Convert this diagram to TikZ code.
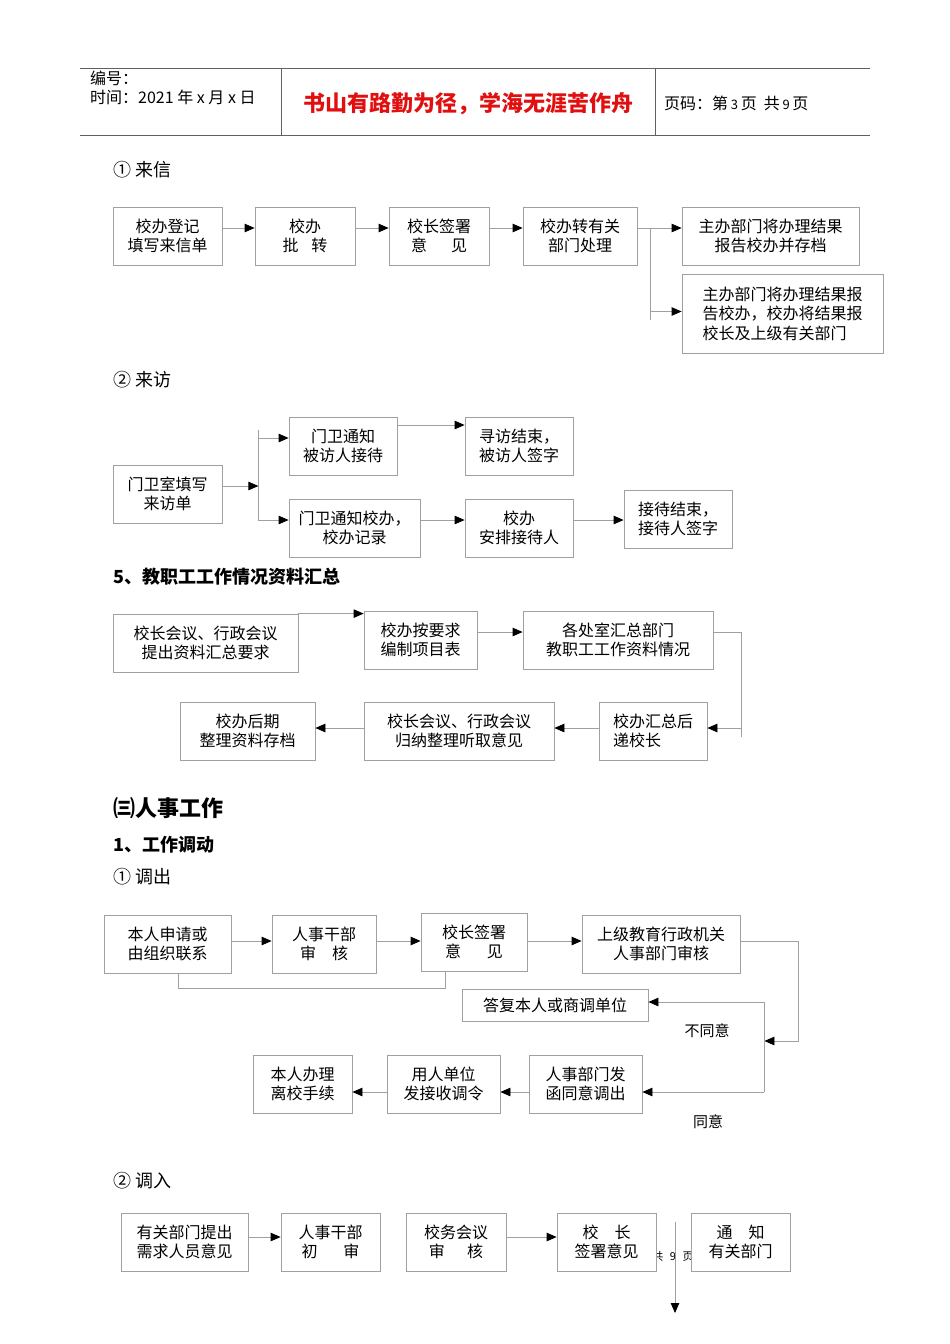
\documentclass[tikz,border=0pt]{standalone}
\usepackage{fontspec}
\setmainfont{Noto Sans CJK SC}
\usepackage{tikz}
\usetikzlibrary{arrows.meta}
\definecolor{linegray}{HTML}{A0A0A0}
\definecolor{rulegray}{HTML}{606060}
\definecolor{mottored}{HTML}{E01010}

\begin{document}
\begin{tikzpicture}[x=1pt, y=-1pt,
	every node/.style={font=\fontsize{16}{19.5}\selectfont},
	box/.style={draw=linegray, line width=0.8pt, fill=white, minimum height=58pt, align=center, inner sep=0pt},
	head/.style={anchor=west, inner sep=0pt, font=\fontsize{18}{20}\selectfont},
	bhead/.style={anchor=west, inner sep=0pt, font=\fontsize{18}{20}\selectfont\bfseries},
	conn/.style={draw=linegray, line width=0.8pt},
	>={Triangle[length=10pt, width=8.5pt, color=black]}]
	\useasboundingbox (0,0) rectangle (950,1344);

	% page header
	\draw[rulegray, line width=1pt] (80,68) -- (870,68);
	\draw[rulegray, line width=1pt] (80,135) -- (870,135);
	\draw[rulegray, line width=1pt] (281,68) -- (281,135);
	\draw[rulegray, line width=1pt] (655,68) -- (655,135);
	\node[anchor=north west, inner sep=0pt, align=left, font=\fontsize{16}{19}\selectfont] (serial) at (90,71) {编号：\\时间：2021 年 x 月 x 日};
	\node[text=mottored, font=\fontsize{22}{24}\selectfont\bfseries] (motto) at (468,104) {书山有路勤为径，学海无涯苦作舟};
	\node[anchor=west, inner sep=0pt, font=\fontsize{16}{18}\selectfont] (pageno) at (664,103) {页码：第\,{\fontsize{13}{14}\selectfont 3}\,页\ \ 共\,{\fontsize{13}{14}\selectfont 9}\,页};

	% (1) letters
	\node[head] (h1) at (113,170) {① 来信};
	\node[box, minimum width=109pt] (b1) at (167.5,236) {校办登记\\填写来信单};
	\node[box, minimum width=100pt] (b2) at (305,236) {校办\\批\hspace{0.8em}转};
	\node[box, minimum width=100pt] (b3) at (439,236) {校长签署\\意\hspace{1.5em}见};
	\node[box, minimum width=114pt] (b4) at (580,236) {校办转有关\\部门处理};
	\node[box, minimum width=177pt] (b5) at (770.5,236) {主办部门将办理结果\\报告校办并存档};
	\node[box, minimum width=201pt, minimum height=79pt, align=left] (b6) at (782.5,313.5) {主办部门将办理结果报\hspace{12pt}\\告校办，校办将结果报\hspace{12pt}\\校长及上级有关部门};
	\draw[conn,->] ([yshift=8pt]b1.east) -- ([yshift=8pt]b2.west);
	\draw[conn,->] ([yshift=8pt]b2.east) -- ([yshift=8pt]b3.west);
	\draw[conn,->] ([yshift=8pt]b3.east) -- ([yshift=8pt]b4.west);
	\draw[conn] ([yshift=8pt]b4.east) -- ++(13,0) coordinate (fork1) -- ([yshift=-6pt]fork1 |- b6.west);
	\draw[conn,->] (fork1) -- (fork1 -| b5.west);
	\draw[conn,->] ([yshift=2pt]fork1 |- b6.west) -- ([yshift=2pt]b6.west);

	% (2) visits
	\node[head] (h2) at (113,380) {② 来访};
	\node[box, minimum width=109pt] (va) at (167.5,494) {门卫室填写\\来访单};
	\node[box, minimum width=108pt] (vb) at (343,446) {门卫通知\\被访人接待};
	\node[box, minimum width=108pt] (vc) at (519,446) {寻访结束，\\被访人签字};
	\node[box, minimum width=131pt] (vd) at (354.5,528) {门卫通知校办，\\校办记录};
	\node[box, minimum width=108pt] (ve) at (519,528) {校办\\安排接待人};
	\node[box, minimum width=108pt] (vf) at (678,519) {接待结束，\\接待人签字};
	\draw[conn,->] ([yshift=8pt]va.east) -- ++(36,0) coordinate (fork2);
	\draw[conn] ([yshift=16pt]fork2 |- vb.west) -- ([yshift=8pt]fork2 |- vd.west);
	\draw[conn,->] ([yshift=8pt]fork2 |- vb.west) -- ([yshift=8pt]vb.west);
	\draw[conn,->] ([yshift=8pt]fork2 |- vd.west) -- ([yshift=8pt]vd.west);
	\draw[conn,->] ([yshift=21pt]vb.east) -- ([yshift=21pt]vc.west);
	\draw[conn,->] ([yshift=8pt]vd.east) -- ([yshift=8pt]ve.west);
	\draw[conn,->] ([yshift=8pt]ve.east) -- ([yshift=8pt]ve.east -| vf.west);

	% 5 staff work summary
	\node[bhead] (h5) at (113,577) {5、教职工工作情况资料汇总};
	\node[box, minimum width=185pt] (sg) at (205.5,643) {校长会议、行政会议\\提出资料汇总要求};
	\node[box, minimum width=113pt] (sh) at (420.5,640) {校办按要求\\编制项目表};
	\node[box, minimum width=190pt] (si) at (618,640) {各处室汇总部门\\教职工工作资料情况};
	\node[box, minimum width=108pt, align=left] (sj) at (653,731) {校办汇总后\\递校长\hphantom{汇总}};
	\node[box, minimum width=190pt] (sk) at (459,731) {校长会议、行政会议\\归纳整理听取意见};
	\node[box, minimum width=135pt] (sl) at (247.5,731) {校办后期\\整理资料存档};
	\draw[conn,->] (sg.north east) -- (sg.north east -| sh.west);
	\draw[conn,->] ([yshift=8pt]sh.east) -- ([yshift=8pt]si.west);
	\draw[conn] ([yshift=8pt]si.east) -- ++(28,0) coordinate (turn5) -- ([yshift=-6pt]turn5 |- sj.east);
	\draw[conn,->] ([yshift=3pt]turn5 |- sj.east) -- ([yshift=3pt]sj.east);
	\draw[conn,->] ([yshift=3pt]sj.west) -- ([yshift=3pt]sk.east);
	\draw[conn,->] ([yshift=3pt]sk.west) -- ([yshift=3pt]sl.east);

	% personnel work
	\node[anchor=west, inner sep=0pt, font=\fontsize{22}{24}\selectfont\bfseries] (h3) at (113,808) {㈢人事工作};
	\node[anchor=west, inner sep=0pt, font=\fontsize{18}{20}\selectfont\bfseries] (h31) at (113,845) {1、工作调动};
	\node[head] (hout) at (113,877) {① 调出};
	\node[box, minimum width=127pt] (pm) at (167.5,944) {本人申请或\\由组织联系};
	\node[box, minimum width=104pt] (pn) at (324,944) {人事干部\\审\hspace{1em}核};
	\node[box, minimum width=106pt] (po) at (474,942) {校长签署\\意\hspace{1.6em}见};
	\node[box, minimum width=158pt] (pp) at (661,944) {上级教育行政机关\\人事部门审核};
	\node[box, minimum width=186pt, minimum height=32pt] (pq) at (555,1005) {答复本人或商调单位};
	\node[box, minimum width=113pt] (pr) at (585.5,1084) {人事部门发\\函同意调出};
	\node[box, minimum width=113pt] (ps) at (443.5,1084) {用人单位\\发接收调令};
	\node[box, minimum width=99pt] (pt) at (302.5,1084) {本人办理\\离校手续};
	\node[font=\fontsize{15}{18}\selectfont] (nay) at (707,1031) {不同意};
	\node[font=\fontsize{15}{18}\selectfont] (yea) at (708,1122) {同意};
	\draw[conn,->] ([yshift=3pt]pm.east) -- ([yshift=3pt]pm.east -| pn.west);
	\draw[conn,->] ([yshift=3pt]pn.east) -- ([yshift=3pt]pn.east -| po.west);
	\draw[conn,->] ([yshift=1pt]po.east) -- ([yshift=1pt]po.east -| pp.west);
	\draw[conn] ([xshift=10.5pt]pm.south) -- ++(0,15) -| ([xshift=-29pt]po.south);
	\draw[conn,->] ([yshift=3pt]pp.east) -- ++(58,0) -- ++(0,100) -- ++(-34,0) coordinate (fork6);
	\draw[conn] ([yshift=3pt]fork6 |- pq.east) -- ([yshift=-8pt]fork6 |- pr.east);
	\draw[conn,->] ([yshift=3pt]fork6 |- pq.east) -- ([yshift=3pt]pq.east);
	\draw[conn,->] ([yshift=-8pt]fork6 |- pr.east) -- ([yshift=-8pt]pr.east);
	\draw[conn,->] ([yshift=-8pt]pr.west) -- ([yshift=-8pt]ps.east);
	\draw[conn,->] ([yshift=-8pt]ps.west) -- ([yshift=-8pt]pt.east);

	% (2) transfer in
	\node[head] (hin) at (113,1181) {② 调入};
	\node[font=\fontsize{11}{12}\selectfont] (ghost) at (673,1256) {共\hspace{0.6em}9\hspace{0.6em}页};
	\node[box, minimum width=127pt] (iu) at (184.5,1242) {有关部门提出\\需求人员意见};
	\node[box, minimum width=99pt] (iv) at (330.5,1242) {人事干部\\初\hspace{1.6em}审};
	\node[box, minimum width=100pt] (iw) at (456,1242) {校务会议\\审\hspace{1.4em}核};
	\node[box, minimum width=99pt] (ix) at (606.5,1242) {校\hspace{1em}长\\签署意见};
	\node[box, minimum width=99pt] (iy) at (740.5,1242) {通\hspace{1em}知\\有关部门};
	\coordinate (drop) at (675,1222);
	\coordinate (dropend) at (675,1313);
	\draw[conn,->] ([yshift=5pt]iu.east) -- ([yshift=5pt]iv.west);
	\draw[conn,->] ([yshift=5pt]iw.east) -- ([yshift=5pt]ix.west);
	\draw[conn,->] (drop) -- (dropend);
\end{tikzpicture}
\end{document}
